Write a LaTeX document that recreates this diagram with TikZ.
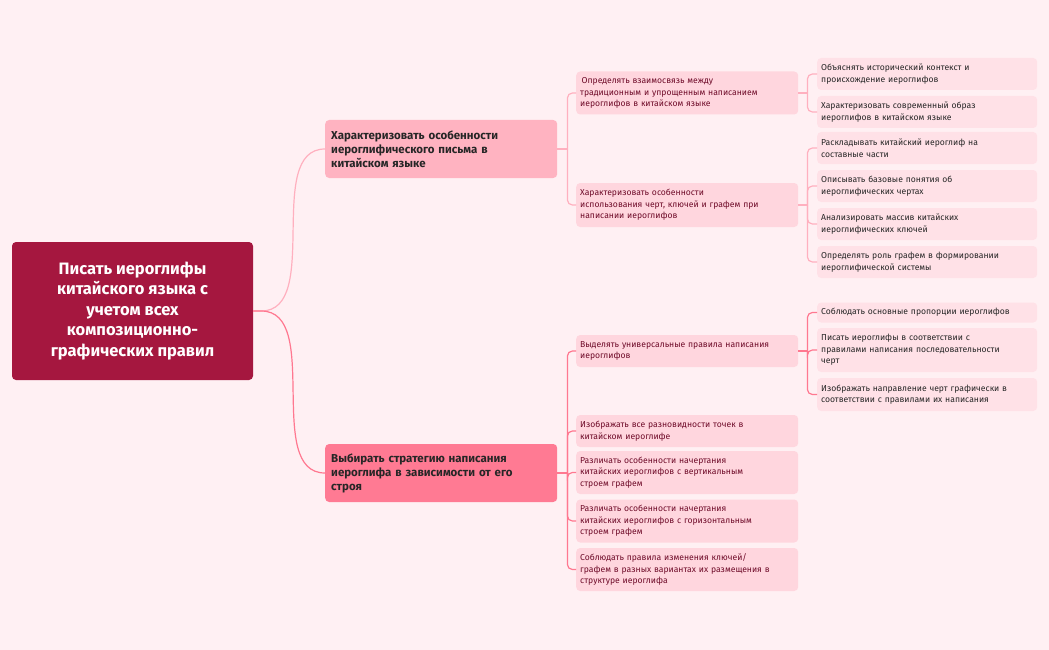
\documentclass[tikz,border=0pt]{standalone}
\usepackage{fontspec}
\setmainfont{Fira Sans}
\usetikzlibrary{calc}
\definecolor{bg}{HTML}{FFF0F3}
\definecolor{rootc}{HTML}{A5173F}
\definecolor{lonea}{HTML}{FFB3C1}
\definecolor{loneb}{HTML}{FF7A93}
\definecolor{ltwo}{HTML}{FFD6DE}
\definecolor{lthree}{HTML}{FFE1E7}
\definecolor{txtd}{HTML}{6E0A28}
\definecolor{lna}{HTML}{FFB0BF}
\definecolor{lnb}{HTML}{FF7890}
\tikzset{
 x=1pt,y=-1pt,
 rootbox/.style={fill=rootc,rounded corners=4,text=white,font=\fontsize{16.5}{20.5}\selectfont\bfseries,align=center,minimum width=241,minimum height=138,inner sep=0},
 onebox/.style={rounded corners=4,text=black!85,font=\fontsize{11.5}{14}\selectfont\bfseries,align=left,text width=220,minimum height=58,inner xsep=6,anchor=west},
 twobox/.style={fill=ltwo,rounded corners=4,text=txtd,font=\fontsize{8.6}{11.5}\selectfont,align=left,text width=214,inner xsep=4,anchor=west},
 threebox/.style={fill=lthree,rounded corners=4,text=black!85,font=\fontsize{8.6}{11.5}\selectfont,align=left,text width=212,inner xsep=4,anchor=west},
 lk/.style={line width=1.2pt,rounded corners=5},
}
\begin{document}
\begin{tikzpicture}
\fill[bg] (0,0) rectangle (1049,650);
\useasboundingbox (0,0) rectangle (1049,650);
\node[rootbox] (root) at (132.5,311) {Писать иероглифы\\китайского языка с\\учетом всех\\композиционно-\\графических правил};
\node[onebox,fill=lonea] (A) at (325,149) {Характеризовать особенности\\иероглифического письма в\\китайском языке};
\node[onebox,fill=loneb] (B) at (325,473) {Выбирать стратегию написания\\иероглифа в зависимости от его\\строя};
\node[twobox,minimum height=43] (a1) at (576,93) {\,Определять взаимосвязь между\\традиционным и упрощенным написанием\\иероглифов в китайском языке};
\node[twobox,minimum height=44] (a2) at (576,205) {Характеризовать особенности\\использования черт, ключей и графем при\\написании иероглифов};
\node[twobox,minimum height=32] (b1) at (576,351) {Выделять универсальные правила написания\\иероглифов};
\node[twobox,minimum height=32] (b2) at (576,431) {Изображать все разновидности точек в\\китайском иероглифе};
\node[twobox,minimum height=43] (b3) at (576,472.5) {Различать особенности начертания\\китайских иероглифов с вертикальным\\строем графем};
\node[twobox,minimum height=43] (b4) at (576,521) {Различать особенности начертания\\китайских иероглифов с горизонтальным\\строем графем};
\node[twobox,minimum height=43] (b5) at (576,569.5) {Соблюдать правила изменения ключей/\\графем в разных вариантах их размещения в\\структуре иероглифа};
\node[threebox,minimum height=32] (c1) at (817,74) {Объяснять исторический контекст и\\происхождение иероглифов};
\node[threebox,minimum height=32] (c2) at (817,112) {Характеризовать современный образ\\иероглифов в китайском языке};
\node[threebox,minimum height=32] (c3) at (817,148) {Раскладывать китайский иероглиф на\\составные части};
\node[threebox,minimum height=32] (c4) at (817,186) {Описывать базовые понятия об\\иероглифических чертах};
\node[threebox,minimum height=32] (c5) at (817,224) {Анализировать массив китайских\\иероглифических ключей};
\node[threebox,minimum height=32] (c6) at (817,262) {Определять роль графем в формировании\\иероглифической системы};
\node[threebox,minimum height=20] (d1) at (817,312.5) {Соблюдать основные пропорции иероглифов};
\node[threebox,minimum height=44] (d2) at (817,350) {Писать иероглифы в соответствии с\\правилами написания последовательности\\черт};
\node[threebox,minimum height=33] (d3) at (817,394.5) {Изображать направление черт графически в\\соответствии с правилами их написания};
\coordinate (rs) at ($(root.east)+(8,0)$);
\draw[lna,line width=1.2pt] (root.east) -- (rs) to[out=0,in=180,looseness=0.9] (A.west);
\draw[lnb,line width=1.2pt] (root.east) -- (rs) to[out=0,in=180,looseness=0.9] (B.west);
\coordinate (ta) at ($(A.east)+(10,0)$);
\coordinate (tb) at ($(B.east)+(10,0)$);
\coordinate (t1) at ($(a1.east)+(9,0)$);
\coordinate (t2) at ($(a2.east)+(9,0)$);
\coordinate (t3) at ($(b1.east)+(9,0)$);
\draw[lna,line width=1.2pt] (A.east) -- (ta);
\draw[lnb,line width=1.2pt] (B.east) -- (tb);
\draw[lna,line width=1.2pt] (a1.east) -- (t1);
\draw[lna,line width=1.2pt] (a2.east) -- (t2);
\draw[lnb,line width=1.2pt] (b1.east) -- (t3);
\foreach \n in {a1,a2} \draw[lna,lk] (ta) |- (\n.west);
\foreach \n in {b1,b2,b3,b4,b5} \draw[lnb,lk] (tb) |- (\n.west);
\foreach \n in {c1,c2} \draw[lna,lk] (t1) |- (\n.west);
\foreach \n in {c3,c4,c5,c6} \draw[lna,lk] (t2) |- (\n.west);
\foreach \n in {d1,d2,d3} \draw[lnb,lk] (t3) |- (\n.west);
\end{tikzpicture}
\end{document}
